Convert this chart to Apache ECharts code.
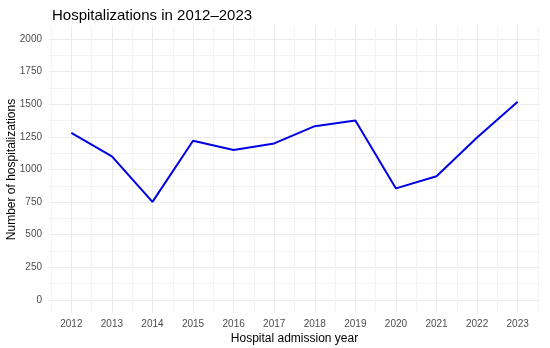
<!DOCTYPE html>
<html>
<head>
<meta charset="utf-8">
<script src="https://cdn.jsdelivr.net/npm/echarts@6/dist/echarts.min.js"></script>
<style>
  html, body { margin: 0; padding: 0; background: #fff; }
  #chart { width: 550px; height: 348px; }
</style>
</head>
<body>
<div id="chart"></div>
<script>
const years = [2012, 2013, 2014, 2015, 2016, 2017, 2018, 2019, 2020, 2021, 2022, 2023];
const hospitalizations = [1280, 1100, 752, 1220, 1150, 1200, 1332, 1375, 855, 948, 1245, 1520];
const yMajorTicks = [0, 250, 500, 750, 1000, 1250, 1500, 1750, 2000];
const yMinorTicks = [125, 375, 625, 875, 1125, 1375, 1625, 1875];
const xMajorTicks = years;
const xMinorTicks = [2011.5, 2012.5, 2013.5, 2014.5, 2015.5, 2016.5, 2017.5, 2018.5, 2019.5, 2020.5, 2021.5, 2022.5, 2023.5];

const FONT = '"Liberation Sans", Arial, sans-serif';
const xMin = 2011.45, xMax = 2023.55, yMin = -100, yMax = 2100;

const chart = echarts.init(document.getElementById('chart'), null, { renderer: 'canvas' });
chart.setOption({
  animation: false,
  backgroundColor: '#ffffff',
  title: {
    text: 'Hospitalizations in 2012\u20132023',
    left: 47, top: 3,
    textStyle: { fontFamily: FONT, fontSize: 15, fontWeight: 'normal', color: '#000000' }
  },
  grid: { left: 49, right: 10, top: 26, bottom: 35, containLabel: false, outerBoundsMode: 'none' },
  xAxis: [
    {
      type: 'value', min: xMin, max: xMax,
      name: 'Hospital admission year', nameLocation: 'middle', nameGap: 20, nameMoveOverlap: false,
      nameTextStyle: { fontFamily: FONT, fontSize: 12, color: '#000000' },
      axisLine: { show: false },
      axisTick: { show: false, customValues: xMajorTicks },
      axisLabel: { customValues: xMajorTicks, fontFamily: FONT, fontSize: 10, color: '#4d4d4d', margin: 6,
                   formatter: v => String(Math.round(v)) },
      splitLine: { show: true, lineStyle: { color: '#ebebeb', width: 1 } }
    },
    {
      type: 'value', min: xMin, max: xMax, position: 'top',
      axisLine: { show: false },
      axisTick: { show: false, customValues: xMinorTicks },
      axisLabel: { show: false, customValues: xMinorTicks },
      splitLine: { show: true, lineStyle: { color: '#f3f3f3', width: 1 } }
    }
  ],
  yAxis: [
    {
      type: 'value', min: yMin, max: yMax,
      name: 'Number of hospitalizations', nameLocation: 'middle', nameGap: 31, nameMoveOverlap: false,
      nameTextStyle: { fontFamily: FONT, fontSize: 12, color: '#000000' },
      axisLine: { show: false },
      axisTick: { show: false, customValues: yMajorTicks },
      axisLabel: { customValues: yMajorTicks, fontFamily: FONT, fontSize: 10, color: '#4d4d4d', margin: 7,
                   formatter: v => String(Math.round(v)) },
      splitLine: { show: true, lineStyle: { color: '#ebebeb', width: 1 } }
    },
    {
      type: 'value', min: yMin, max: yMax, position: 'right',
      axisLine: { show: false },
      axisTick: { show: false, customValues: yMinorTicks },
      axisLabel: { show: false, customValues: yMinorTicks },
      splitLine: { show: true, lineStyle: { color: '#f3f3f3', width: 1 } }
    }
  ],
  series: [
    {
      type: 'line',
      xAxisIndex: 0, yAxisIndex: 0,
      data: years.map((y, i) => [y, hospitalizations[i]]),
      showSymbol: false,
      lineStyle: { color: '#0000e6', width: 2 },
      z: 5
    }
  ]
});
</script>
</body>
</html>
